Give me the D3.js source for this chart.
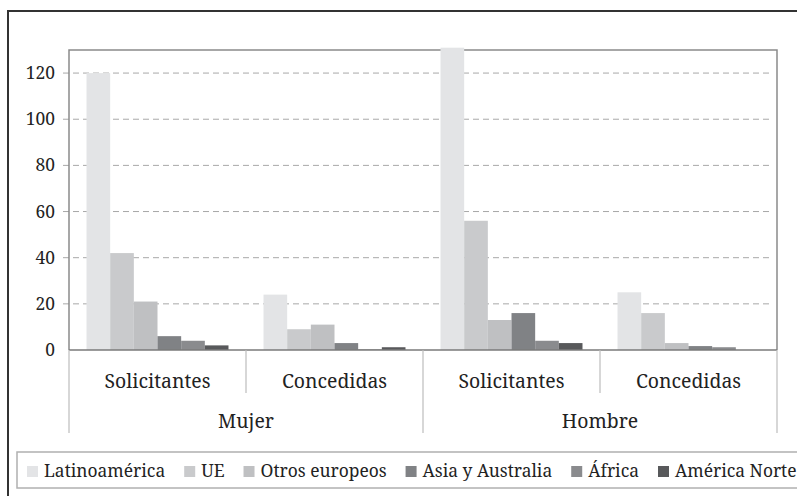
<!DOCTYPE html>
<html>
<head>
<meta charset="utf-8">
<script src="https://cdn.jsdelivr.net/npm/d3@7"></script>
<style>
  body { margin: 0; background: #fff; }
  svg { display: block; }
</style>
</head>
<body>
<script>
// data
var groups = ["Mujer", "Hombre"];
var subCats = ["Solicitantes", "Concedidas"];
var series = ["Latinoamérica", "UE", "Otros europeos", "Asia y Australia", "África", "América Norte"];
var colors = ["#e3e4e6", "#c9cacc", "#bfc0c2", "#808285", "#8a8b8e", "#58595b"];
// one row per group/subcategory, one value per series
var mujerSolicitantes = [120, 42, 21, 6, 4, 2];
var mujerConcedidas = [24, 9, 11, 3, 0.3, 1.2];
var hombreSolicitantes = [131, 56, 13, 16, 4, 3];
var hombreConcedidas = [25, 16, 3, 1.7, 1.2, 0];
var yTicks = [0, 20, 40, 60, 80, 100, 120];

var FONT = "Noto Serif";

var rows = [
  { group: "Mujer", sub: "Solicitantes", values: mujerSolicitantes },
  { group: "Mujer", sub: "Concedidas", values: mujerConcedidas },
  { group: "Hombre", sub: "Solicitantes", values: hombreSolicitantes },
  { group: "Hombre", sub: "Concedidas", values: hombreConcedidas }
];
rows.forEach(function(r){ r.key = r.group + "|" + r.sub; });

var W = 797, H = 496;
var plot = { left: 69, right: 777, top: 50, bottom: 350 };

var svg = d3.select("body").append("svg")
  .attr("width", W)
  .attr("height", H)
  .attr("font-family", FONT);

// outer frame (runs off the right and bottom edge)
svg.append("rect")
  .attr("x", 8).attr("y", 11)
  .attr("width", 820).attr("height", 520)
  .attr("fill", "none")
  .attr("stroke", "#333")
  .attr("stroke-width", 2);

var x0 = d3.scaleBand()
  .domain(rows.map(function(r){ return r.key; }))
  .range([plot.left, plot.right]);

var x1 = d3.scaleBand()
  .domain(series)
  .range([0, x0.bandwidth()])
  .paddingOuter(0.74);

var y = d3.scaleLinear()
  .domain([0, 130])
  .range([plot.bottom, plot.top]);

var color = d3.scaleOrdinal().domain(series).range(colors);

// gridlines
svg.append("g").selectAll("line")
  .data(yTicks.filter(function(t){ return t > 0; }))
  .join("line")
  .attr("x1", plot.left - 6)
  .attr("x2", plot.right - 4)
  .attr("y1", function(d){ return y(d); })
  .attr("y2", function(d){ return y(d); })
  .attr("stroke", "#a8a8a8")
  .attr("stroke-width", 1)
  .attr("stroke-dasharray", "6,4");

// plot border
svg.append("path")
  .attr("d", "M" + plot.left + "," + plot.bottom + "V" + plot.top + "H" + plot.right + "V" + plot.bottom)
  .attr("fill", "none")
  .attr("stroke", "#8a8a8a")
  .attr("stroke-width", 1.5);

// y axis labels
var yAxis = d3.axisLeft(y).tickValues(yTicks).tickSize(0).tickPadding(14);
var yG = svg.append("g")
  .attr("transform", "translate(" + plot.left + ",0)")
  .call(yAxis)
  .attr("font-family", FONT)
  .attr("font-size", 17.4);
yG.select(".domain").remove();
yG.selectAll("text").attr("fill", "#222");

// bars
svg.append("g").selectAll("g")
  .data(rows)
  .join("g")
  .attr("transform", function(r){ return "translate(" + x0(r.key) + ",0)"; })
  .selectAll("rect")
  .data(function(r){ return r.values.map(function(v, i){ return { s: series[i], v: v }; }); })
  .join("rect")
  .attr("x", function(d){ return x1(d.s); })
  .attr("width", x1.bandwidth())
  .attr("y", function(d){ return y(d.v); })
  .attr("height", function(d){ return y(0) - y(d.v); })
  .attr("fill", function(d){ return color(d.s); });

// x axis line
svg.append("line")
  .attr("x1", plot.left).attr("x2", plot.right)
  .attr("y1", plot.bottom).attr("y2", plot.bottom)
  .attr("stroke", "#7a7a7a")
  .attr("stroke-width", 1.5);

// category dividers and labels
var catBottom = 393, grpBottom = 433;
svg.append("g").selectAll("line")
  .data(rows.filter(function(r){ return r.sub === "Concedidas"; }))
  .join("line")
  .attr("x1", function(r){ return x0(r.key); })
  .attr("x2", function(r){ return x0(r.key); })
  .attr("y1", plot.bottom).attr("y2", catBottom)
  .attr("stroke", "#bdbdbd").attr("stroke-width", 1.2);

svg.append("g").selectAll("text")
  .data(rows)
  .join("text")
  .attr("x", function(r){ return x0(r.key) + x0.bandwidth() / 2; })
  .attr("y", 388)
  .attr("text-anchor", "middle")
  .attr("font-family", FONT)
  .attr("font-size", 19.4)
  .attr("fill", "#222")
  .text(function(r){ return r.sub; });

var groupEdges = [x0(rows[0].key), x0(rows[2].key), plot.right];
svg.append("g").selectAll("line")
  .data(groupEdges)
  .join("line")
  .attr("x1", function(d){ return d; })
  .attr("x2", function(d){ return d; })
  .attr("y1", plot.bottom).attr("y2", grpBottom)
  .attr("stroke", "#bdbdbd").attr("stroke-width", 1.2);

svg.append("g").selectAll("text")
  .data(groups)
  .join("text")
  .attr("x", function(g, i){ return (groupEdges[i] + groupEdges[i + 1]) / 2; })
  .attr("y", 428)
  .attr("text-anchor", "middle")
  .attr("font-family", FONT)
  .attr("font-size", 19.4)
  .attr("fill", "#222")
  .text(function(g){ return g; });

// legend
var legTop = 452, legBottom = 488;
svg.append("rect")
  .attr("x", 17).attr("y", legTop)
  .attr("width", 800).attr("height", legBottom - legTop)
  .attr("fill", "none")
  .attr("stroke", "#b0b0b0")
  .attr("stroke-width", 1.5);

var legend = svg.append("g");
var lx = 27;
series.forEach(function(s){
  legend.append("rect")
    .attr("x", lx).attr("y", 466)
    .attr("width", 11).attr("height", 11)
    .attr("fill", color(s));
  var t = legend.append("text")
    .attr("x", lx + 17)
    .attr("y", 477)
    .attr("font-family", FONT)
    .attr("font-size", 17.4)
    .attr("fill", "#222")
    .text(s);
  lx = lx + 17 + t.node().getComputedTextLength() + 19;
});
</script>
</body>
</html>
